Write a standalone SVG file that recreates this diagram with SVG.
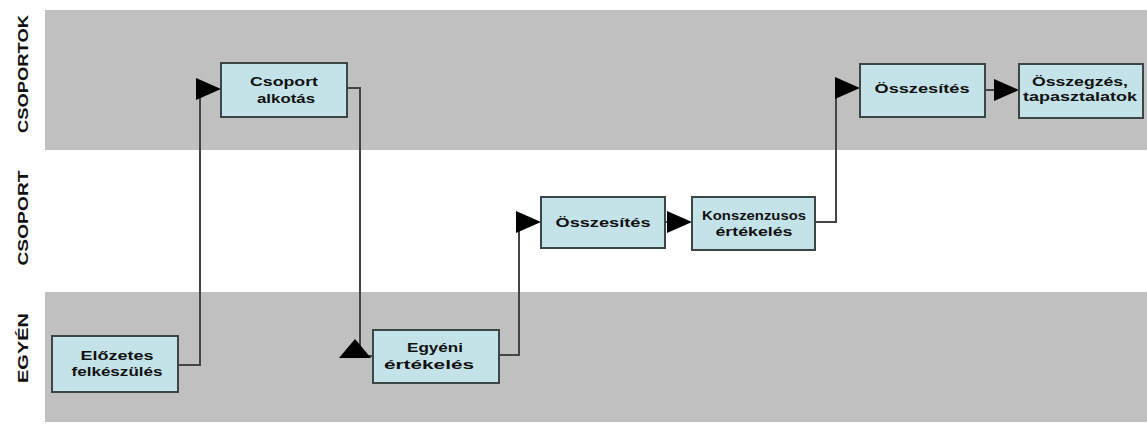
<svg xmlns="http://www.w3.org/2000/svg" width="1147" height="425" viewBox="0 0 1147 425">
<style>
.band{fill:#c0c0c0}
.box{fill:#c4e3e9;stroke:#3c4646;stroke-width:2}
.t{font-family:"Liberation Sans",Arial,sans-serif;font-weight:bold;font-size:13px;fill:#111;text-anchor:middle}
.lane{font-family:"Liberation Sans",Arial,sans-serif;font-weight:bold;font-size:15px;fill:#111;text-anchor:middle}
.c{fill:none;stroke:#444;stroke-width:2}
.ah{fill:#000}
</style>
<defs>
<marker id="arr" markerWidth="25" markerHeight="22" refX="23" refY="11" orient="auto" markerUnits="userSpaceOnUse">
<path d="M0,0 L25,11 L0,22 Z" class="ah"/>
</marker>
</defs>
<rect width="1147" height="425" fill="#fff"/>
<g id="lanes">
<rect class="band" x="45" y="10" width="1102" height="140"/>
<rect class="band" x="45" y="292" width="1102" height="130"/>
<text class="lane" transform="translate(28,74) rotate(-90)" textLength="118" lengthAdjust="spacingAndGlyphs">CSOPORTOK</text>
<text class="lane" transform="translate(28,218) rotate(-90)" textLength="95" lengthAdjust="spacingAndGlyphs">CSOPORT</text>
<text class="lane" transform="translate(28,348) rotate(-90)" textLength="70" lengthAdjust="spacingAndGlyphs">EGYÉN</text>
</g>
<g id="connectors">
<path class="c" d="M178,365 H200 V89 H219" marker-end="url(#arr)"/>
<path class="c" d="M347,88 H360 V356 H373"/>
<polygon class="ah" points="355,339 371,358 339,358"/>
<path class="c" d="M499,355 H519 V222 H539" marker-end="url(#arr)"/>
<path class="c" d="M665,222 H690" marker-end="url(#arr)"/>
<path class="c" d="M815,222 H836 V88 H858" marker-end="url(#arr)"/>
<path class="c" d="M985,90 H1017" marker-end="url(#arr)"/>
</g>
<g id="n-csoport-alkotas">
<rect class="box" x="221" y="63" width="126" height="54"/>
<text class="t" x="284" y="86" textLength="68" lengthAdjust="spacingAndGlyphs">Csoport</text>
<text class="t" x="286" y="103" textLength="58" lengthAdjust="spacingAndGlyphs">alkotás</text>
</g>
<g id="n-elozetes">
<rect class="box" x="52" y="336" width="126" height="56"/>
<text class="t" x="117" y="360" textLength="73" lengthAdjust="spacingAndGlyphs">Előzetes</text>
<text class="t" x="117" y="376" textLength="91" lengthAdjust="spacingAndGlyphs">felkészülés</text>
</g>
<g id="n-egyeni">
<rect class="box" x="373" y="330" width="126" height="53"/>
<text class="t" x="435" y="352" textLength="56" lengthAdjust="spacingAndGlyphs">Egyéni</text>
<text class="t" x="429" y="369" textLength="90" lengthAdjust="spacingAndGlyphs">értékelés</text>
</g>
<g id="n-osszesites-csoport">
<rect class="box" x="541" y="197" width="124" height="51"/>
<text class="t" x="603" y="227" textLength="95" lengthAdjust="spacingAndGlyphs">Összesítés</text>
</g>
<g id="n-konszenzusos">
<rect class="box" x="692" y="197" width="123" height="53"/>
<text class="t" x="754" y="220" textLength="104" lengthAdjust="spacingAndGlyphs">Konszenzusos</text>
<text class="t" x="754" y="236" textLength="77" lengthAdjust="spacingAndGlyphs">értékelés</text>
</g>
<g id="n-osszesites-csoportok">
<rect class="box" x="860" y="64" width="125" height="53"/>
<text class="t" x="922" y="93" textLength="95" lengthAdjust="spacingAndGlyphs">Összesítés</text>
</g>
<g id="n-osszegzes">
<rect class="box" x="1019" y="64" width="124" height="54"/>
<text class="t" x="1080" y="86" textLength="96" lengthAdjust="spacingAndGlyphs">Összegzés,</text>
<text class="t" x="1080" y="101" textLength="114" lengthAdjust="spacingAndGlyphs">tapasztalatok</text>
</g>
</svg>
